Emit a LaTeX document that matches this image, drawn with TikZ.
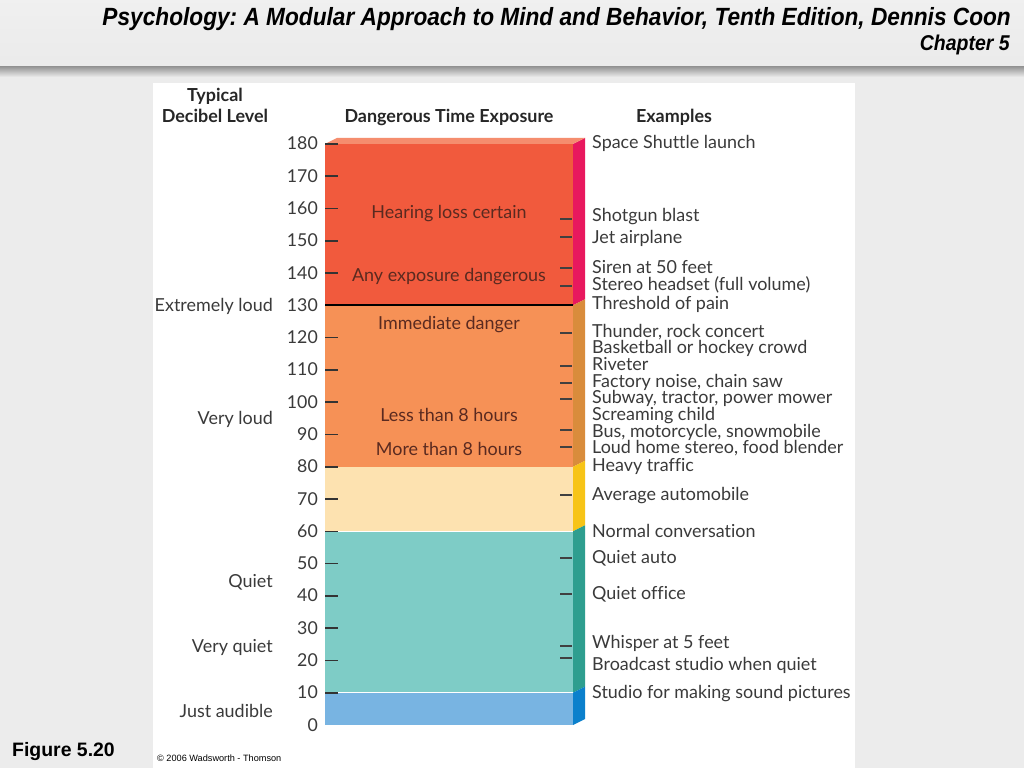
\documentclass[tikz,border=0pt]{standalone}
\usepackage{fontspec}
\setmainfont{Lato}[Ligatures=NoCommon]
\newfontfamily\slidefont{Liberation Sans}
\usepackage{tikz}
\usetikzlibrary{positioning}

\definecolor{redfront}{HTML}{F15A3D}
\definecolor{redside}{HTML}{E8185E}
\definecolor{orfront}{HTML}{F69156}
\definecolor{orside}{HTML}{D98C3C}
\definecolor{pchfront}{HTML}{FDE2B0}
\definecolor{pchside}{HTML}{F7C417}
\definecolor{tlfront}{HTML}{7ECCC6}
\definecolor{tlside}{HTML}{2E9E8F}
\definecolor{blfront}{HTML}{78B4E2}
\definecolor{blside}{HTML}{0B80CC}
\definecolor{topface}{HTML}{F58D6E}
\definecolor{txtgray}{HTML}{3A3A3A}
\definecolor{bartxt}{HTML}{5A2A20}
\definecolor{slidebg}{HTML}{ECECEC}

% decibel level -> pixel row
\newcommand{\lev}[1]{725-3.228*(#1)}

\begin{document}
\begin{tikzpicture}[x=1bp,y=-1bp,
                    scalenum/.style={anchor=east,inner sep=0,text height=12bp,text depth=0bp,font=\fontsize{17.8}{18}\selectfont,text=txtgray},
                    example/.style={anchor=west,inner sep=0,text height=12bp,text depth=0bp,font=\fontsize{18}{18}\selectfont,text=txtgray},
                    loudness/.style={anchor=east,inner sep=0,text height=12bp,text depth=0bp,font=\fontsize{18}{18}\selectfont,text=txtgray},
                    exposure/.style={inner sep=0,text height=12bp,text depth=0bp,font=\fontsize{18}{18}\selectfont,text=bartxt},
                    heading/.style={inner sep=0,text height=12bp,text depth=0bp,font=\fontsize{18}{18}\selectfont\bfseries,text=black!85},
                    lefttick/.style={draw=black!80,line width=1.6bp},
                    righttick/.style={draw=black!75,line width=1.1bp}
                ]
    \useasboundingbox (0,0) rectangle (1024,768);
    % slide background
    \fill[slidebg] (0,0) rectangle (1024,768);
    \shade[top color=white!94!black,bottom color=white!92!black] (0,0) rectangle (1024,67);
    \shade[top color=black!40,bottom color=slidebg] (0,67) rectangle (1024,77);
    \fill[white] (153,83) rectangle (855,768);

    % bar
    \foreach \top/\bot/\front/\side in {180/130/redfront/redside,130/80/orfront/orside,80/60/pchfront/pchside,60/10/tlfront/tlside,10/0/blfront/blside}
        {
        \fill[\front] (325,{\lev{\top}}) rectangle (573,{\lev{\bot}});
        \fill[\side] (573,{\lev{\top}}) -- ++(12,-6) -- (585,{\lev{\bot}-6}) -- (573,{\lev{\bot}}) -- cycle;
    }
    \fill[topface] (325,{\lev{180}}) -- ++(12,-6) -- ++(248,0) -- (573,{\lev{180}}) -- cycle;
    \draw[white,line width=1.2bp] (325,{\lev{60}}) -- (573,{\lev{60}});
    \draw[white,line width=1.2bp] (325,{\lev{10}}) -- (573,{\lev{10}});
    \draw[black,line width=2.2bp] (325,{\lev{130}}) -- (573,{\lev{130}});

    % decibel scale
    \foreach \d in {0,10,...,180}
        {
        \node[scalenum] (n\d) at (318,{\lev{\d}}) {\d};
    }
    \foreach \d in {10,20,...,120,140,150,...,180}
        {
        \draw[lefttick] (325,{\lev{\d}}) -- ++(13,0);
    }

    % headings
    \node[heading] (typical) at (215,96) {Typical};
    \node[heading] (decibel) at (215,116) {Decibel Level};
    \node[heading] (danger) at (449,116) {Dangerous Time Exposure};
    \node[heading] (examples) at (674,116) {Examples};

    % loudness labels
    \foreach \y/\t in {305/Extremely loud,418/Very loud,581/Quiet,646/Very quiet,711/Just audible}
        {
        \node[loudness] (loud\y) at (273,\y) {\t};
    }

    % exposure labels
    \foreach \y/\t in {212/Hearing loss certain,275/Any exposure dangerous,323/Immediate danger,415/Less than 8 hours,449/More than 8 hours}
        {
        \node[exposure] (exp\y) at (449,\y) {\t};
    }

    % examples
    \foreach \y/\t [count=\i] in {142/Space Shuttle launch,215/Shotgun blast,237/Jet airplane,267/Siren at 50 feet,284/Stereo headset (full volume),303/Threshold of pain,331/{Thunder, rock concert},347/Basketball or hockey crowd,364/Riveter,381/{Factory noise, chain saw},397/{Subway, tractor, power mower},414/Screaming child,431/{Bus, motorcycle, snowmobile},447/{Loud home stereo, food blender},465/Heavy traffic,494/Average automobile,531/Normal conversation,557/Quiet auto,593/Quiet office,642/Whisper at 5 feet,664/Broadcast studio when quiet,692/Studio for making sound pictures}
        {
        \node[example] (ex\i) at (592,\y) {\t};
    }
    \foreach \y in {219,237,268,286,333,366,383,399,430,447,495,558,594,646,658}
        {
        \draw[righttick] (560,\y) -- ++(12,0);
    }

    % slide texts
    \node[anchor=east,inner sep=0,font=\slidefont\fontsize{25}{26}\selectfont\bfseries\itshape\frenchspacing] (title) at (1011,19) {\scalebox{0.91}[1]{Psychology: A Modular Approach to Mind and Behavior, Tenth Edition, Dennis Coon}};
    \node[anchor=east,inner sep=0,font=\slidefont\fontsize{21.5}{22}\selectfont\bfseries\itshape] (chapter) at (1010,45) {\scalebox{0.91}[1]{Chapter 5}};
    \node[anchor=west,inner sep=0,font=\slidefont\fontsize{19.5}{20}\selectfont\bfseries] (figure) at (12,752) {Figure 5.20};
    \node[anchor=west,inner sep=0,font=\slidefont\fontsize{9.2}{10}\selectfont] (copy) at (157,758) {\textcopyright{} 2006 Wadsworth - Thomson};
\end{tikzpicture}
\end{document}
